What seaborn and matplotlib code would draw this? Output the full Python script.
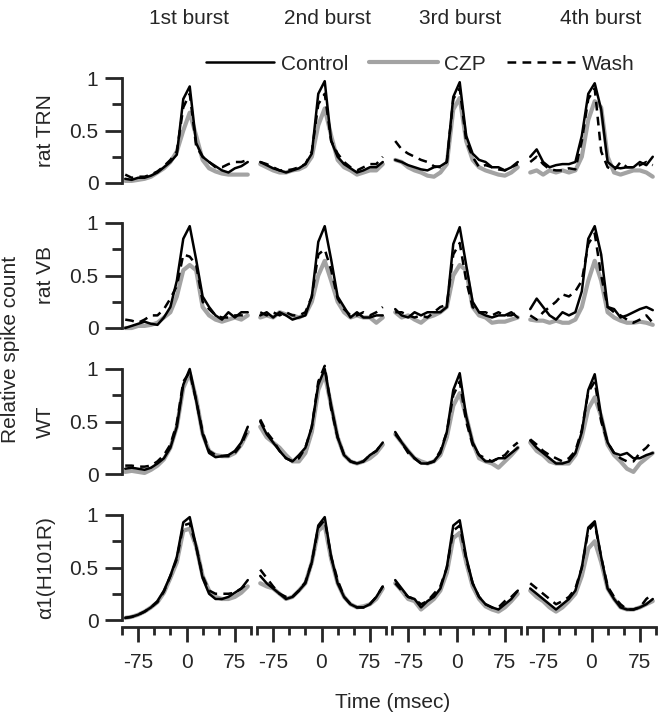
import matplotlib
matplotlib.use('Agg')
import matplotlib.pyplot as plt
from matplotlib.lines import Line2D
import pandas as pd
import seaborn as sns

# time bins (msec, bin centres) and panel labels
time_ms = [-95, -85, -75, -65, -55, -45, -35, -25, -15, -5, 5, 15, 25, 35, 45, 55, 65, 75, 85, 95]
bursts = ['1st burst', '2nd burst', '3rd burst', '4th burst']
cells = ['rat TRN', 'rat VB', 'WT', 'α1(H101R)']
conditions = ['Control', 'CZP', 'Wash']

# relative spike counts, one list per burst
trn_control = [
    [0.04, 0.03, 0.05, 0.05, 0.07, 0.10, 0.15, 0.20, 0.27, 0.80, 0.92, 0.38, 0.25, 0.20, 0.16, 0.12, 0.10, 0.14, 0.16, 0.20],
    [0.20, 0.17, 0.14, 0.12, 0.10, 0.12, 0.14, 0.18, 0.28, 0.85, 0.97, 0.40, 0.25, 0.18, 0.14, 0.10, 0.12, 0.15, 0.15, 0.20],
    [0.22, 0.20, 0.17, 0.15, 0.13, 0.12, 0.15, 0.16, 0.20, 0.82, 0.96, 0.45, 0.28, 0.22, 0.20, 0.15, 0.15, 0.12, 0.15, 0.20],
    [0.25, 0.32, 0.20, 0.15, 0.17, 0.18, 0.18, 0.20, 0.45, 0.85, 0.95, 0.70, 0.20, 0.15, 0.14, 0.15, 0.15, 0.20, 0.17, 0.25],
]
trn_czp = [
    [0.02, 0.02, 0.03, 0.04, 0.06, 0.10, 0.14, 0.20, 0.30, 0.50, 0.67, 0.45, 0.22, 0.14, 0.11, 0.09, 0.08, 0.08, 0.08, 0.08],
    [0.18, 0.15, 0.12, 0.10, 0.10, 0.12, 0.13, 0.16, 0.25, 0.55, 0.71, 0.45, 0.22, 0.15, 0.12, 0.08, 0.10, 0.12, 0.12, 0.18],
    [0.22, 0.20, 0.15, 0.12, 0.10, 0.07, 0.06, 0.10, 0.18, 0.70, 0.81, 0.40, 0.22, 0.15, 0.12, 0.10, 0.08, 0.07, 0.10, 0.15],
    [0.10, 0.12, 0.08, 0.12, 0.10, 0.12, 0.10, 0.12, 0.25, 0.60, 0.78, 0.72, 0.25, 0.10, 0.08, 0.10, 0.12, 0.12, 0.10, 0.06],
]
trn_wash = [
    [0.08, 0.05, 0.06, 0.06, 0.08, 0.11, 0.16, 0.22, 0.30, 0.72, 0.85, 0.35, 0.25, 0.20, 0.15, 0.15, 0.18, 0.20, 0.20, 0.22],
    [0.20, 0.18, 0.15, 0.12, 0.12, 0.13, 0.15, 0.18, 0.30, 0.75, 0.85, 0.40, 0.28, 0.20, 0.15, 0.12, 0.15, 0.18, 0.18, 0.25],
    [0.40, 0.32, 0.28, 0.25, 0.22, 0.20, 0.16, 0.15, 0.20, 0.80, 0.90, 0.40, 0.25, 0.15, 0.17, 0.15, 0.13, 0.12, 0.15, 0.18],
    [0.20, 0.25, 0.18, 0.13, 0.12, 0.12, 0.14, 0.13, 0.40, 0.80, 0.90, 0.30, 0.15, 0.12, 0.20, 0.15, 0.15, 0.17, 0.20, 0.17],
]

vb_control = [
    [0.00, 0.02, 0.04, 0.06, 0.04, 0.03, 0.10, 0.20, 0.45, 0.85, 0.97, 0.65, 0.30, 0.20, 0.12, 0.08, 0.15, 0.10, 0.15, 0.15],
    [0.12, 0.15, 0.10, 0.15, 0.12, 0.08, 0.10, 0.12, 0.30, 0.82, 0.97, 0.65, 0.30, 0.20, 0.10, 0.15, 0.10, 0.10, 0.12, 0.12],
    [0.18, 0.12, 0.10, 0.15, 0.12, 0.15, 0.15, 0.15, 0.20, 0.80, 0.96, 0.60, 0.25, 0.15, 0.12, 0.10, 0.12, 0.12, 0.15, 0.10],
    [0.18, 0.28, 0.20, 0.12, 0.08, 0.15, 0.12, 0.15, 0.35, 0.85, 0.97, 0.70, 0.20, 0.18, 0.10, 0.12, 0.15, 0.18, 0.20, 0.17],
]
vb_czp = [
    [0.00, 0.00, 0.02, 0.02, 0.03, 0.05, 0.10, 0.15, 0.30, 0.55, 0.60, 0.55, 0.20, 0.12, 0.08, 0.06, 0.08, 0.10, 0.08, 0.12],
    [0.10, 0.12, 0.10, 0.15, 0.13, 0.12, 0.10, 0.13, 0.25, 0.50, 0.64, 0.45, 0.25, 0.15, 0.10, 0.12, 0.10, 0.10, 0.05, 0.10],
    [0.15, 0.10, 0.12, 0.08, 0.05, 0.10, 0.12, 0.15, 0.20, 0.50, 0.60, 0.55, 0.20, 0.12, 0.10, 0.05, 0.06, 0.06, 0.08, 0.10],
    [0.08, 0.07, 0.07, 0.05, 0.07, 0.05, 0.05, 0.08, 0.20, 0.45, 0.64, 0.45, 0.15, 0.10, 0.07, 0.05, 0.05, 0.06, 0.05, 0.03],
]
vb_wash = [
    [0.08, 0.07, 0.05, 0.08, 0.12, 0.12, 0.18, 0.28, 0.40, 0.70, 0.68, 0.60, 0.25, 0.18, 0.12, 0.10, 0.10, 0.12, 0.12, 0.12],
    [0.15, 0.12, 0.15, 0.12, 0.15, 0.12, 0.12, 0.15, 0.30, 0.70, 0.75, 0.55, 0.28, 0.18, 0.12, 0.12, 0.15, 0.12, 0.15, 0.20],
    [0.15, 0.15, 0.12, 0.10, 0.12, 0.10, 0.15, 0.20, 0.22, 0.70, 0.81, 0.45, 0.20, 0.15, 0.15, 0.12, 0.15, 0.12, 0.12, 0.15],
    [0.12, 0.08, 0.15, 0.20, 0.25, 0.32, 0.30, 0.35, 0.45, 0.80, 0.90, 0.50, 0.20, 0.15, 0.12, 0.08, 0.05, 0.08, 0.12, 0.05],
]

wt_control = [
    [0.05, 0.06, 0.05, 0.04, 0.06, 0.10, 0.15, 0.25, 0.45, 0.85, 1.00, 0.70, 0.38, 0.20, 0.16, 0.17, 0.18, 0.22, 0.30, 0.45],
    [0.50, 0.38, 0.30, 0.22, 0.15, 0.12, 0.18, 0.25, 0.45, 0.85, 1.00, 0.65, 0.35, 0.18, 0.12, 0.10, 0.12, 0.18, 0.22, 0.30],
    [0.40, 0.30, 0.22, 0.15, 0.10, 0.10, 0.12, 0.20, 0.40, 0.80, 0.96, 0.55, 0.30, 0.18, 0.12, 0.12, 0.15, 0.15, 0.20, 0.25],
    [0.32, 0.25, 0.20, 0.15, 0.10, 0.10, 0.12, 0.20, 0.40, 0.80, 0.95, 0.55, 0.30, 0.20, 0.18, 0.20, 0.15, 0.15, 0.18, 0.20],
]
wt_czp = [
    [0.02, 0.03, 0.02, 0.01, 0.04, 0.08, 0.14, 0.25, 0.45, 0.82, 0.96, 0.72, 0.38, 0.22, 0.18, 0.17, 0.17, 0.20, 0.28, 0.40],
    [0.45, 0.35, 0.30, 0.25, 0.18, 0.12, 0.12, 0.20, 0.40, 0.80, 0.95, 0.65, 0.35, 0.18, 0.12, 0.10, 0.12, 0.15, 0.20, 0.28],
    [0.38, 0.30, 0.22, 0.15, 0.12, 0.10, 0.12, 0.18, 0.35, 0.65, 0.77, 0.55, 0.30, 0.15, 0.12, 0.10, 0.06, 0.12, 0.18, 0.25],
    [0.30, 0.22, 0.18, 0.12, 0.10, 0.10, 0.10, 0.18, 0.35, 0.62, 0.73, 0.55, 0.28, 0.18, 0.12, 0.05, 0.02, 0.10, 0.15, 0.20],
]
wt_wash = [
    [0.08, 0.08, 0.07, 0.07, 0.08, 0.12, 0.18, 0.28, 0.48, 0.88, 0.97, 0.70, 0.40, 0.22, 0.18, 0.17, 0.17, 0.20, 0.28, 0.42],
    [0.52, 0.40, 0.32, 0.22, 0.15, 0.12, 0.15, 0.25, 0.45, 0.88, 1.03, 0.62, 0.35, 0.18, 0.12, 0.10, 0.12, 0.18, 0.22, 0.30],
    [0.38, 0.30, 0.20, 0.15, 0.10, 0.10, 0.12, 0.22, 0.40, 0.75, 0.88, 0.50, 0.28, 0.18, 0.15, 0.12, 0.15, 0.18, 0.25, 0.30],
    [0.33, 0.28, 0.22, 0.18, 0.15, 0.12, 0.15, 0.22, 0.42, 0.78, 0.88, 0.50, 0.30, 0.20, 0.15, 0.12, 0.12, 0.20, 0.25, 0.32],
]

h101r_control = [
    [0.02, 0.03, 0.05, 0.08, 0.12, 0.18, 0.28, 0.42, 0.60, 0.93, 0.98, 0.70, 0.40, 0.25, 0.20, 0.20, 0.22, 0.26, 0.30, 0.38],
    [0.42, 0.35, 0.30, 0.25, 0.20, 0.22, 0.28, 0.35, 0.55, 0.90, 0.98, 0.60, 0.35, 0.22, 0.15, 0.12, 0.12, 0.15, 0.22, 0.32],
    [0.38, 0.30, 0.22, 0.20, 0.12, 0.18, 0.22, 0.30, 0.50, 0.90, 0.95, 0.60, 0.35, 0.22, 0.15, 0.12, 0.10, 0.15, 0.20, 0.28],
    [0.30, 0.25, 0.20, 0.15, 0.10, 0.15, 0.20, 0.28, 0.50, 0.88, 0.94, 0.60, 0.30, 0.20, 0.12, 0.10, 0.10, 0.12, 0.15, 0.20],
]
h101r_czp = [
    [0.02, 0.03, 0.05, 0.08, 0.12, 0.17, 0.26, 0.40, 0.55, 0.85, 0.87, 0.70, 0.42, 0.28, 0.22, 0.20, 0.20, 0.22, 0.26, 0.32],
    [0.35, 0.32, 0.30, 0.25, 0.20, 0.22, 0.28, 0.35, 0.55, 0.85, 0.90, 0.58, 0.35, 0.22, 0.15, 0.12, 0.13, 0.15, 0.20, 0.30],
    [0.35, 0.28, 0.20, 0.18, 0.10, 0.15, 0.20, 0.28, 0.45, 0.78, 0.83, 0.55, 0.32, 0.20, 0.13, 0.10, 0.08, 0.12, 0.18, 0.25],
    [0.28, 0.22, 0.18, 0.12, 0.08, 0.12, 0.18, 0.25, 0.42, 0.68, 0.75, 0.55, 0.30, 0.20, 0.12, 0.10, 0.10, 0.12, 0.15, 0.18],
]
h101r_wash = [
    [0.02, 0.03, 0.05, 0.08, 0.12, 0.17, 0.27, 0.42, 0.58, 0.90, 0.92, 0.70, 0.42, 0.28, 0.25, 0.25, 0.25, 0.26, 0.30, 0.35],
    [0.48, 0.40, 0.32, 0.25, 0.22, 0.22, 0.28, 0.36, 0.55, 0.88, 0.95, 0.60, 0.38, 0.22, 0.15, 0.12, 0.12, 0.15, 0.22, 0.32],
    [0.35, 0.28, 0.22, 0.20, 0.15, 0.18, 0.25, 0.32, 0.50, 0.85, 0.90, 0.58, 0.35, 0.22, 0.15, 0.12, 0.12, 0.18, 0.22, 0.28],
    [0.35, 0.30, 0.25, 0.20, 0.15, 0.18, 0.22, 0.30, 0.50, 0.85, 0.92, 0.60, 0.32, 0.22, 0.15, 0.10, 0.10, 0.12, 0.20, 0.25],
]

series = {
    'rat TRN': {'Control': trn_control, 'CZP': trn_czp, 'Wash': trn_wash},
    'rat VB': {'Control': vb_control, 'CZP': vb_czp, 'Wash': vb_wash},
    'WT': {'Control': wt_control, 'CZP': wt_czp, 'Wash': wt_wash},
    'α1(H101R)': {'Control': h101r_control, 'CZP': h101r_czp, 'Wash': h101r_wash},
}

# long table for seaborn
records = []
for cell in cells:
    for cond in conditions:
        for b, burst in enumerate(bursts):
            for t, v in zip(time_ms, series[cell][cond][b]):
                records.append((cell, burst, cond, t, v))
df = pd.DataFrame(records, columns=['cell', 'burst', 'condition', 'time', 'value'])

sns.set_style('ticks')
plt.rcParams['font.family'] = ['Liberation Sans', 'DejaVu Sans']
FS = 15
plt.rcParams['font.size'] = FS

styles = {
    'CZP': dict(color='#a3a3a3', linewidth=3.0, linestyle='-'),
    'Wash': dict(color='black', linewidth=1.8, linestyle=(0, (3.5, 2.5))),
    'Control': dict(color='black', linewidth=1.8, linestyle='-'),
}
draw_order = ['CZP', 'Wash', 'Control']

W, H = 663, 719
fig = plt.figure(figsize=(W / 100, H / 100), dpi=100)

col_left = [122, 257, 392, 527]
col_w = 129
row_top = [78, 223, 369, 515]
row_h = 105

for r, cell in enumerate(cells):
    for c, burst in enumerate(bursts):
        ax = fig.add_axes([col_left[c] / W, 1 - (row_top[r] + row_h) / H, col_w / W, row_h / H])
        sub = df[(df['cell'] == cell) & (df['burst'] == burst)]
        for cond in draw_order:
            sns.lineplot(data=sub[sub['condition'] == cond], x='time', y='value',
                         ax=ax, estimator=None, legend=False, clip_on=False,
                         **styles[cond])
        ax.set_xlim(-100, 100)
        ax.set_ylim(0, 1)
        ax.set_xlabel('')
        ax.set_ylabel('')
        for s in ['top', 'right']:
            ax.spines[s].set_visible(False)
        for s in ['left', 'bottom']:
            ax.spines[s].set_linewidth(2)

        ax.set_yticks([0, 0.5, 1])
        ax.set_yticklabels(['0', '0.5', '1'], fontsize=FS)
        ax.set_yticks([0.25, 0.75], minor=True)
        ax.tick_params(axis='y', which='major', length=12, width=2, pad=5)
        ax.tick_params(axis='y', which='minor', length=7, width=2)
        if c > 0:
            ax.spines['left'].set_visible(False)
            ax.tick_params(axis='y', which='both', left=False, labelleft=False)
        else:
            ax.set_ylabel(cell, fontsize=FS)
            ax.yaxis.set_label_coords(-0.52, 0.5)

        ax.set_xticks([-75, 0, 75])
        ax.set_xticklabels(['-75', '0', '75'], fontsize=FS)
        ax.set_xticks([-100, -50, -25, 25, 50, 100], minor=True)
        if r < 3:
            ax.spines['bottom'].set_visible(False)
            ax.tick_params(axis='x', which='both', bottom=False, labelbottom=False)
        else:
            ax.spines['bottom'].set_position(('outward', 5))
            ax.tick_params(axis='x', which='major', length=11, width=2, pad=8)
            ax.tick_params(axis='x', which='minor', length=6, width=2)

# column titles
title_x = [189, 327, 460, 601]
for x, burst in zip(title_x, bursts):
    fig.text(x / W, 1 - 18 / H, burst, ha='center', va='center', fontsize=FS)

fig.text(11 / W, 1 - 349 / H, 'Relative spike count', rotation=90,
         ha='center', va='center', fontsize=FS)
fig.text(393 / W, 1 - 703 / H, 'Time (msec)', ha='center', va='center', fontsize=FS)

handles = [Line2D([], [], **styles[cond]) for cond in conditions]
fig.legend(handles, conditions, loc='center', bbox_to_anchor=(420 / W, 1 - 64 / H),
           ncol=3, frameon=False, handlelength=3.3, handletextpad=0.3,
           columnspacing=1.0, fontsize=FS)

fig.savefig('out.png', dpi=100)
